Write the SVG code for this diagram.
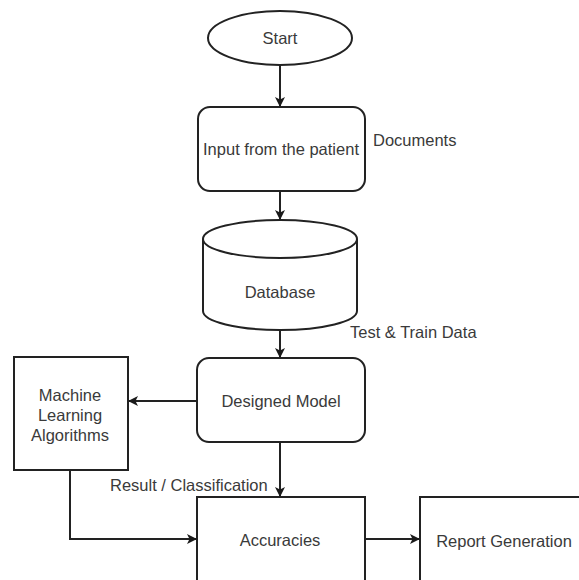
<svg xmlns="http://www.w3.org/2000/svg" width="579" height="580" viewBox="0 0 579 580">
<defs>
<marker id="ah" markerWidth="12" markerHeight="12" refX="10" refY="6" orient="auto" markerUnits="userSpaceOnUse">
<path d="M1,1 L11,6 L1,11 L3.5,6 Z" fill="#1a1a1a"/>
</marker>
<style>
.s{fill:#fff;stroke:#222;stroke-width:2}
.t{font-family:"Liberation Sans",Arial,sans-serif;font-size:16.5px;fill:#3a3a3a;text-anchor:middle}
.l{font-family:"Liberation Sans",Arial,sans-serif;font-size:16.5px;fill:#3a3a3a}
.c{fill:none;stroke:#222;stroke-width:2;marker-end:url(#ah)}
</style>
</defs>
<rect width="579" height="580" fill="#fff"/>
<g id="connectors">
<path class="c" d="M280,65 L280,106"/>
<path class="c" d="M280,191 L280,219"/>
<path class="c" d="M280,330 L280,357"/>
<path class="c" d="M197,401 L129,401"/>
<path class="c" d="M280,442 L280,496"/>
<path class="c" d="M70,470 L70,539 L196,539"/>
<path class="c" d="M365,539 L419,539"/>
</g>
<g id="start">
<ellipse class="s" cx="280" cy="38" rx="72" ry="27"/>
<text class="t" x="280" y="44">Start</text>
</g>
<g id="input">
<rect class="s" x="198" y="107" width="167" height="84" rx="12"/>
<text class="t" x="281" y="155">Input from the patient</text>
</g>
<text class="l" x="373" y="146">Documents</text>
<g id="database">
<path class="s" d="M203,239 L203,311 A77,19 0 0 0 357,311 L357,239 A77,19 0 0 0 203,239 Z"/>
<path fill="none" stroke="#222" stroke-width="2" d="M203,239 A77,19 0 0 0 357,239"/>
<text class="t" x="280" y="298">Database</text>
</g>
<text class="l" x="350" y="338">Test &amp; Train Data</text>
<g id="model">
<rect class="s" x="197" y="358" width="168" height="84" rx="12"/>
<text class="t" x="281" y="407">Designed Model</text>
</g>
<g id="ml">
<rect class="s" x="14" y="357" width="114" height="113"/>
<text class="t" x="70" y="401">Machine</text>
<text class="t" x="70" y="421">Learning</text>
<text class="t" x="70" y="441">Algorithms</text>
</g>
<text class="l" x="110" y="491">Result / Classification</text>
<g id="accuracies">
<rect class="s" x="197" y="497" width="168" height="100"/>
<text class="t" x="280" y="546">Accuracies</text>
</g>
<g id="report">
<rect class="s" x="420" y="497" width="180" height="100"/>
<text class="t" x="504" y="547">Report Generation</text>
</g>
</svg>
